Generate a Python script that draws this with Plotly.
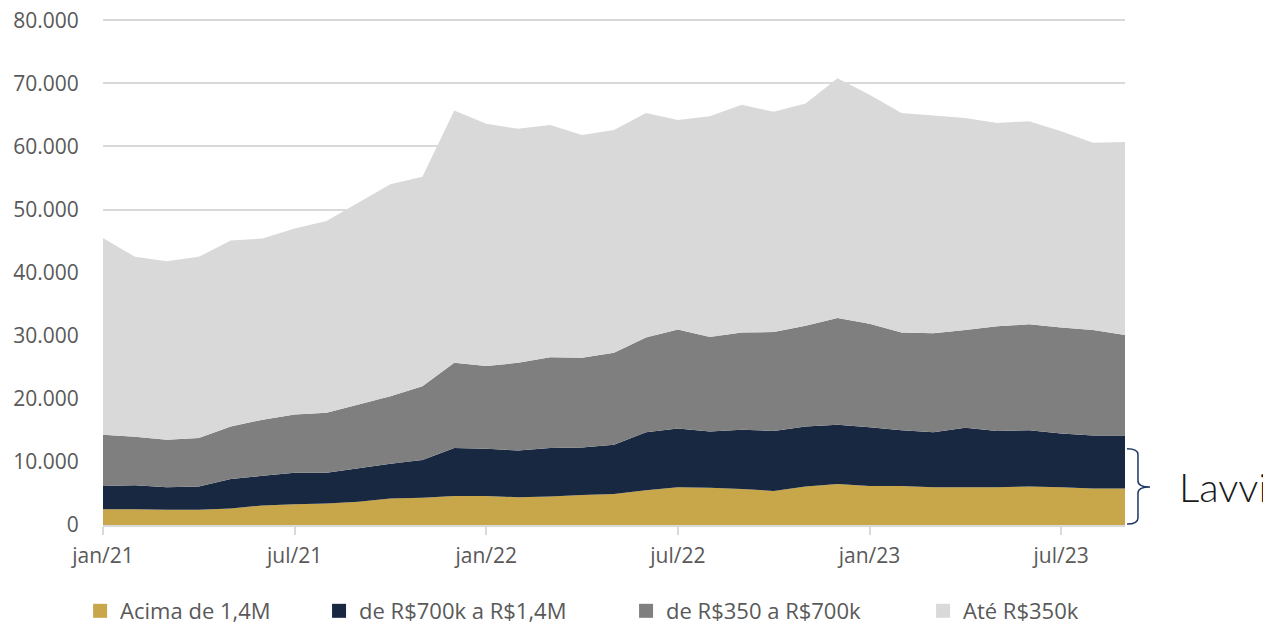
import plotly.graph_objects as go

# monthly stock by price band (units), jan/21 .. set/23
MESES = [
    "jan/21", "fev/21", "mar/21", "abr/21", "mai/21", "jun/21",
    "jul/21", "ago/21", "set/21", "out/21", "nov/21", "dez/21",
    "jan/22", "fev/22", "mar/22", "abr/22", "mai/22", "jun/22",
    "jul/22", "ago/22", "set/22", "out/22", "nov/22", "dez/22",
    "jan/23", "fev/23", "mar/23", "abr/23", "mai/23", "jun/23",
    "jul/23", "ago/23", "set/23",
]

acima_1_4m = [
    2500, 2500, 2400, 2400, 2600, 3100, 3300, 3400, 3700, 4200, 4300, 4600,
    4600, 4400, 4500, 4750, 4900, 5500, 6000, 5900, 5700, 5400, 6100, 6500,
    6200, 6200, 6000, 6000, 6000, 6100, 6000, 5800, 5800,
]
de_700k_a_1_4m = [
    3700, 3800, 3600, 3700, 4700, 4700, 5000, 4900, 5300, 5500, 6000, 7600,
    7500, 7400, 7700, 7550, 7800, 9200, 9300, 8900, 9400, 9500, 9500, 9400,
    9300, 8800, 8700, 9400, 8900, 8900, 8500, 8400, 8400,
]
de_350_a_700k = [
    8100, 7700, 7500, 7700, 8300, 8900, 9200, 9500, 10100, 10700, 11700, 13500,
    13100, 13900, 14400, 14200, 14600, 15000, 15700, 15000, 15400, 15700, 16000, 16900,
    16400, 15500, 15700, 15500, 16600, 16800, 16800, 16700, 15900,
]
ate_350k = [
    31200, 28500, 28300, 28700, 29500, 28700, 29500, 30400, 32000, 33600, 33200, 40000,
    38400, 37100, 36800, 35300, 35300, 35600, 33200, 35000, 36100, 34900, 35200, 38000,
    36300, 34800, 34500, 33600, 32200, 32200, 31100, 29700, 30600,
]

TICK_LABELS = ["jan/21", "jul/21", "jan/22", "jul/22", "jan/23", "jul/23"]

SERIES = [
    ("Acima de 1,4M", acima_1_4m, "#C8A64A"),
    ("de R$700k a R$1,4M", de_700k_a_1_4m, "#192841"),
    ("de R$350 a R$700k", de_350_a_700k, "#7F7F7F"),
    ("Até R$350k", ate_350k, "#D9D9D9"),
]

# one legend per entry so the spacing can follow the original
LEGEND_X = [-0.0224, 0.2114, 0.5118, 0.8024]

TEXT_GRAY = "#595959"
GRID = "#D9D9D9"

fig = go.Figure()

for name, values, color in SERIES:
    fig.add_trace(go.Scatter(
        x=MESES, y=values,
        mode="none",
        stackgroup="one",
        fillcolor=color,
        line=dict(width=0),
        name=name,
        showlegend=False,
        hovertemplate=f"<b>{name}</b><br>%{{x}}: %{{y:,.0f}}<extra></extra>",
    ))

# legend entries with square swatches
legend_ids = ["legend", "legend2", "legend3", "legend4"]
for (name, values, color), lid in zip(SERIES, legend_ids):
    fig.add_trace(go.Scatter(
        x=[None], y=[None],
        mode="markers",
        marker=dict(symbol="square", size=14, color=color),
        name=name,
        legend=lid,
        hoverinfo="skip",
    ))

legend_style = dict(
    orientation="h",
    xanchor="left",
    y=-0.17, yanchor="middle",
    font=dict(family="Open Sans", size=22, color=TEXT_GRAY),
    bgcolor="rgba(0,0,0,0)",
)
fig.update_layout({lid: dict(legend_style, x=lx) for lid, lx in zip(legend_ids, LEGEND_X)})

# bracket + label on the right
fig.add_shape(
    type="path",
    xref="paper", yref="paper",
    path=("M 1.002,0.1505 Q 1.0127,0.1505 1.0127,0.139 L 1.0127,0.087 "
          "Q 1.0127,0.0752 1.0245,0.0752 Q 1.0127,0.0752 1.0127,0.063 "
          "L 1.0127,0.014 Q 1.0127,0.002 1.002,0.002"),
    line=dict(color="#1F3864", width=1.5),
)
fig.add_annotation(
    text="Lavvi",
    xref="paper", yref="paper",
    x=1.0509, y=0.075, xanchor="left", yanchor="middle",
    showarrow=False,
    font=dict(family="Lato", size=40, weight=300, color="#1A1A1A"),
)

# page body keeps its 8px margin, so the figure is 8px smaller each way
fig.update_layout(
    width=1263, height=616,
    margin=dict(l=95, r=146, t=11, b=99, autoexpand=False),
    plot_bgcolor="white",
    paper_bgcolor="white",
    separators=",.",
    font=dict(family="Open Sans", color=TEXT_GRAY),
    showlegend=True,
    xaxis=dict(
        type="category",
        range=[0, len(MESES) - 1],
        tickvals=TICK_LABELS,
        ticktext=TICK_LABELS,
        showgrid=False,
        showline=True, linecolor=GRID, linewidth=2,
        ticks="outside", ticklen=8, tickcolor=GRID, tickwidth=2,
        tickfont=dict(size=21, color=TEXT_GRAY),
        ticklabelstandoff=3,
        zeroline=False,
    ),
    yaxis=dict(
        range=[0, 80200],
        tickvals=[0, 10000, 20000, 30000, 40000, 50000, 60000, 70000, 80000],
        tickformat=",d",
        showgrid=True, gridcolor=GRID, gridwidth=2,
        zeroline=False,
        tickfont=dict(size=21, color=TEXT_GRAY),
        ticks="outside", ticklen=19, tickcolor="rgba(0,0,0,0)",
        ticklabeloverflow="allow",
    ),
)

fig.write_html("out.html")
